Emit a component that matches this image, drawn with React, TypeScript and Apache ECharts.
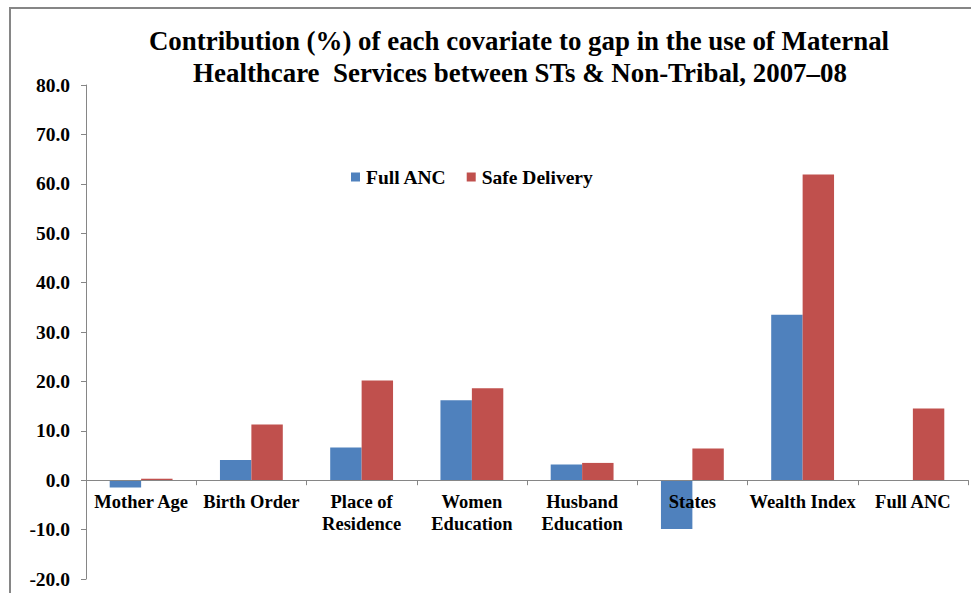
import React, { useEffect, useRef } from "react";
import * as echarts from "echarts";

const categories = [
  "Mother Age",
  "Birth Order",
  "Place of\nResidence",
  "Women\nEducation",
  "Husband\nEducation",
  "States",
  "Wealth Index",
  "Full ANC",
];
const fullANC: (number | null)[] = [-1.5, 4.1, 6.6, 16.2, 3.2, -9.9, 33.5, null];
const safeDelivery: number[] = [0.3, 11.3, 20.2, 18.6, 3.5, 6.4, 61.9, 14.5];
const seriesNames = ["Full ANC", "Safe Delivery"];
const titleLines = [
  "Contribution (%) of each covariate to gap in the use of Maternal",
  "Healthcare  Services between STs & Non-Tribal, 2007\u201308",
];
const yMin = -20;
const yMax = 80;

const SERIF = "Liberation Serif";
const GRAY = "#868686";
const GRID_TOP = 85;
const GRID_BOTTOM = 14;
const H = 593;

export default function App() {
  const ref = useRef<HTMLDivElement>(null);
  useEffect(() => {
    if (!ref.current) return;
    const chart = echarts.init(ref.current, null, { renderer: "svg" });
    const gridH = H - GRID_TOP - GRID_BOTTOM;
    const zeroOffset = -(gridH * (0 - yMin)) / (yMax - yMin);
    chart.setOption({
      animation: false,
      backgroundColor: "#ffffff",
      graphic: [
        {
          type: "rect",
          shape: { x: 10, y: 8, width: 1200, height: 1200 },
          style: { fill: "none", stroke: GRAY, lineWidth: 2 },
          silent: true,
        },
        {
          type: "text",
          x: 519,
          y: 41,
          style: {
            text: titleLines[0],
            textAlign: "center",
            textVerticalAlign: "middle",
            fontFamily: SERIF,
            fontWeight: "bold",
            fontSize: 26.9,
            fill: "#000",
          },
        },
        {
          type: "text",
          x: 520,
          y: 73,
          style: {
            text: titleLines[1],
            textAlign: "center",
            textVerticalAlign: "middle",
            fontFamily: SERIF,
            fontWeight: "bold",
            fontSize: 26.9,
            fill: "#000",
          },
        },
      ],
      legend: {
        data: seriesNames,
        left: 346,
        top: 162,
        icon: "rect",
        itemWidth: 9,
        itemHeight: 9,
        itemGap: 20,
        textStyle: {
          fontFamily: SERIF,
          fontWeight: "bold",
          fontSize: 19.5,
          color: "#000",
          padding: [0, 0, 0, 1],
        },
      },
      grid: {
        left: 86,
        right: 3,
        top: GRID_TOP,
        bottom: GRID_BOTTOM,
        containLabel: false,
        outerBoundsMode: "none",
      },
      xAxis: {
        type: "category",
        data: categories,
        z: 3,
        position: "bottom",
        offset: zeroOffset,
        axisLine: { onZero: false, lineStyle: { color: GRAY, width: 1 } },
        axisTick: { show: true, length: 5, alignWithLabel: false, lineStyle: { color: GRAY } },
        axisLabel: {
          interval: 0,
          margin: 11,
          fontFamily: SERIF,
          fontWeight: "bold",
          fontSize: 18.5,
          lineHeight: 22,
          color: "#000",
        },
        splitLine: { show: false },
      },
      yAxis: {
        type: "value",
        min: yMin,
        max: yMax,
        interval: 10,
        axisLine: { show: true, lineStyle: { color: GRAY, width: 1 } },
        axisTick: { show: true, length: 5, lineStyle: { color: GRAY } },
        splitLine: { show: false },
        axisLabel: {
          margin: 16,
          formatter: (v: number) => v.toFixed(1),
          fontFamily: SERIF,
          fontWeight: "bold",
          fontSize: 19.5,
          color: "#000",
        },
      },
      series: [
        {
          name: seriesNames[0],
          type: "bar",
          data: fullANC,
          barGap: "0%",
          barCategoryGap: "43%",
          itemStyle: { color: "#4F81BD" },
        },
        {
          name: seriesNames[1],
          type: "bar",
          data: safeDelivery,
          barGap: "0%",
          barCategoryGap: "43%",
          itemStyle: { color: "#C0504D" },
        },
      ],
    });
    return () => chart.dispose();
  }, []);
  return (
    <div
      ref={ref}
      style={{ position: "fixed", left: 0, top: 0, width: 971, height: 593 }}
    />
  );
}
